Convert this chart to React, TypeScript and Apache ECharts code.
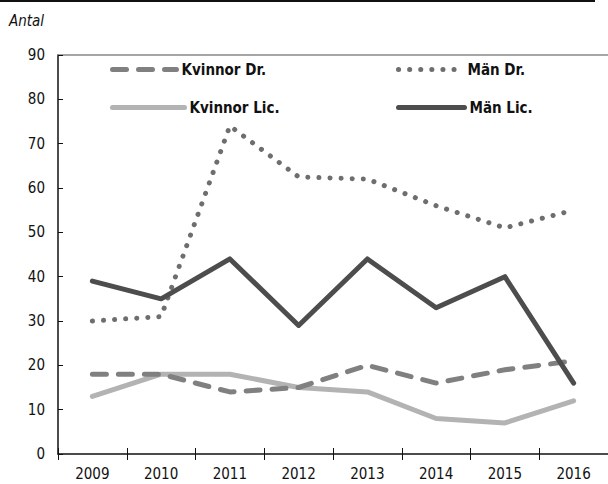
import React, { useEffect, useRef } from "react";
import * as echarts from "echarts";

const years = ["2009", "2010", "2011", "2012", "2013", "2014", "2015", "2016"];
const kvinnorDr = [18, 18, 14, 15, 20, 16, 19, 21];
const manDr = [30, 31, 74, 62.5, 62, 56, 51, 55];
const kvinnorLic = [13, 18, 18, 15, 14, 8, 7, 12];
const manLic = [39, 35, 44, 29, 44, 33, 40, 16];

const FONT = "'Liberation Sans Narrow', 'DejaVu Sans Condensed', 'Roboto Condensed', sans-serif";

export default function App() {
  const ref = useRef<HTMLDivElement>(null);
  useEffect(() => {
    if (!ref.current) return;
    const chart = echarts.init(ref.current, undefined, { renderer: "svg" });
    const legendText = { fontFamily: FONT, fontSize: 15, fontWeight: "bold" as const, color: "#111" };
    const legendBase = {
      itemWidth: 64,
      itemHeight: 10,
      itemGap: 16,
      textStyle: legendText,
      selectedMode: false as const,
      padding: 0,
      itemStyle: { opacity: 0 },
      lineStyle: { width: 5, cap: "round" as const },
    };
    chart.setOption({
      animation: false,
      backgroundColor: "#fff",
      textStyle: { fontFamily: FONT },
      grid: { left: 58, top: 55, bottom: 30, right: -15 },
      graphic: [
        { type: "line", shape: { x1: 0, y1: 1, x2: 595, y2: 1 }, style: { stroke: "#111", lineWidth: 2 } },
        {
          type: "text",
          left: 9,
          top: 13,
          style: { text: "Antal", fontFamily: FONT, fontSize: 15, fontStyle: "italic", fill: "#111" },
        },
      ],
      legend: [
        { ...legendBase, data: ["Kvinnor Dr."], left: 110, top: 62, itemGap: 20 },
        { ...legendBase, data: ["Män Dr."], left: 396, top: 62, itemGap: 16 },
        { ...legendBase, data: ["Kvinnor Lic."], left: 110, top: 100, itemWidth: 72, itemGap: 6 },
        { ...legendBase, data: ["Män Lic."], left: 396, top: 100, itemWidth: 66, itemGap: 6 },
      ],
      xAxis: [
        {
          type: "category",
          data: years,
          position: "bottom",
          axisLine: { lineStyle: { color: "#111", width: 1.5 } },
          axisTick: { show: true, length: 6, lineStyle: { color: "#111" } },
          axisLabel: { fontFamily: FONT, fontSize: 15, color: "#111", margin: 12 },
        },
        {
          type: "category",
          data: years,
          position: "bottom",
          axisLine: { show: false },
          axisTick: { show: true, inside: true, length: 6, lineStyle: { color: "#111" } },
          axisLabel: { show: false },
        },
        {
          type: "category",
          data: years,
          position: "top",
          axisLine: { lineStyle: { color: "#888", width: 1.5 } },
          axisTick: { show: false },
          axisLabel: { show: false },
        },
      ],
      yAxis: {
        type: "value",
        min: 0,
        max: 90,
        interval: 10,
        axisLine: { show: true, lineStyle: { color: "#111", width: 1.5 } },
        axisTick: { show: true, inside: true, length: 5, lineStyle: { color: "#111" } },
        splitLine: { show: false },
        axisLabel: { fontFamily: FONT, fontSize: 15, color: "#111", margin: 13 },
      },
      series: [
        {
          name: "Kvinnor Lic.",
          type: "line",
          data: kvinnorLic,
          symbol: "none",
          color: "#b3b3b3",
          lineStyle: { color: "#b3b3b3", width: 5, cap: "round", join: "round" },
        },
        {
          name: "Kvinnor Dr.",
          type: "line",
          data: kvinnorDr,
          symbol: "none",
          color: "#808080",
          lineStyle: { color: "#808080", width: 5, type: [14, 12], cap: "round", join: "round" },
        },
        {
          name: "Män Dr.",
          type: "line",
          data: manDr,
          symbol: "none",
          color: "#6e6e6e",
          lineStyle: { color: "#6e6e6e", width: 5, type: [0.1, 11], cap: "round", join: "round" },
        },
        {
          name: "Män Lic.",
          type: "line",
          data: manLic,
          symbol: "none",
          color: "#4d4d4d",
          lineStyle: { color: "#4d4d4d", width: 5, cap: "round", join: "round" },
        },
      ],
    });
    return () => chart.dispose();
  }, []);
  return <div ref={ref} style={{ width: 608, height: 484, position: "absolute", left: 0, top: 0 }} />;
}
